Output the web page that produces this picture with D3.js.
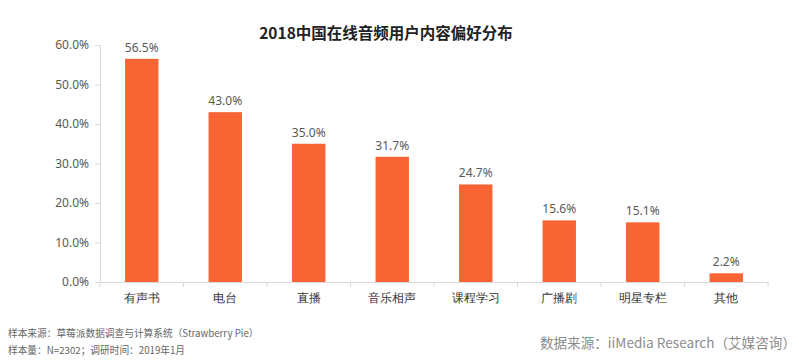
<!DOCTYPE html>
<html>
<head>
<meta charset="utf-8">
<style>
  body { margin: 0; background: #fff; }
  svg { display: block; font-family: "Noto Sans CJK SC", "Noto Sans", sans-serif; }
</style>
</head>
<body>
<svg></svg>
<script src="https://cdn.jsdelivr.net/npm/d3@7/dist/d3.min.js"></script>
<script>
  // data
  const categories = ['有声书', '电台', '直播', '音乐相声', '课程学习', '广播剧', '明星专栏', '其他']
  const values = [56.5, 43.0, 35.0, 31.7, 24.7, 15.6, 15.1, 2.2]
  const yTicks = [0, 10, 20, 30, 40, 50, 60]

  const title = '2018中国在线音频用户内容偏好分布'
  const noteLines = ['样本来源：草莓派数据调查与计算系统（Strawberry Pie）', '样本量：N=2302；调研时间：2019年1月']
  const sourceText = '数据来源：iiMedia Research（艾媒咨询）'

  const W = 799, H = 364
  const margin = {top: 45, right: 31, bottom: 82, left: 100}
  const width = W - margin.left - margin.right,
        height = H - margin.top - margin.bottom

  const svg = d3.select('svg').attr('width', W).attr('height', H)

  svg.append('text')
    .attr('x', 386).attr('y', 39)
    .attr('text-anchor', 'middle')
    .style('font-size', '15.5px').style('font-weight', 'bold').style('fill', '#222')
    .text(title)

  const g = svg.append('g').attr('transform', `translate(${margin.left},${margin.top})`)

  const x = d3.scaleBand().domain(categories).range([0, width]).paddingInner(0.6).paddingOuter(0.3)
  const y = d3.scaleLinear().domain([0, 60]).range([height, 0])

  // y axis
  const yAxis = g.append('g')
    .call(d3.axisLeft(y).tickValues(yTicks).tickSize(5).tickPadding(6).tickFormat(d => d.toFixed(1) + '%'))
  yAxis.selectAll('path, line').attr('stroke', '#d9d9d9')
  yAxis.selectAll('text').style('font-size', '12px').style('fill', '#595959').style('font-family', '"Noto Sans", sans-serif')

  // x axis, separators between the bands
  const xAxis = g.append('g').attr('transform', `translate(0,${height})`)
    .call(d3.axisBottom(x).tickSize(0).tickPadding(11))
  xAxis.select('.domain').attr('stroke', '#d9d9d9')
  xAxis.selectAll('text').style('font-size', '12px').style('fill', '#333')
  const step = x.step()
  const x0 = x(categories[0]) - step * x.paddingInner() / 2
  xAxis.selectAll('.sep')
    .data(d3.range(categories.length + 1))
    .enter().append('line')
      .attr('class', 'sep')
      .attr('x1', i => x0 + i * step)
      .attr('x2', i => x0 + i * step)
      .attr('y1', 0).attr('y2', 5)
      .attr('stroke', '#d9d9d9')

  g.selectAll('.bar')
    .data(values)
    .enter().append('rect')
      .attr('class', 'bar')
      .attr('x', (d, i) => x(categories[i]))
      .attr('y', d => y(d))
      .attr('width', x.bandwidth())
      .attr('height', d => height - y(d))
      .attr('fill', '#f86434')

  g.selectAll('.val')
    .data(values)
    .enter().append('text')
      .attr('class', 'val')
      .attr('x', (d, i) => x(categories[i]) + x.bandwidth() / 2)
      .attr('y', d => y(d) - 7)
      .attr('text-anchor', 'middle')
      .style('font-size', '12px').style('fill', '#595959').style('font-family', '"Noto Sans", sans-serif')
      .text(d => d.toFixed(1) + '%')

  svg.selectAll('.note')
    .data(noteLines)
    .enter().append('text')
      .attr('class', 'note')
      .attr('x', 8).attr('y', (d, i) => 337 + i * 17)
      .style('font-size', '9.7px').style('fill', '#666')
      .text(d => d)

  svg.append('text')
    .attr('x', 796).attr('y', 348)
    .attr('text-anchor', 'end')
    .style('font-size', '13.6px').style('fill', '#8c8c8c')
    .text(sourceText)
</script>
</body>
</html>
